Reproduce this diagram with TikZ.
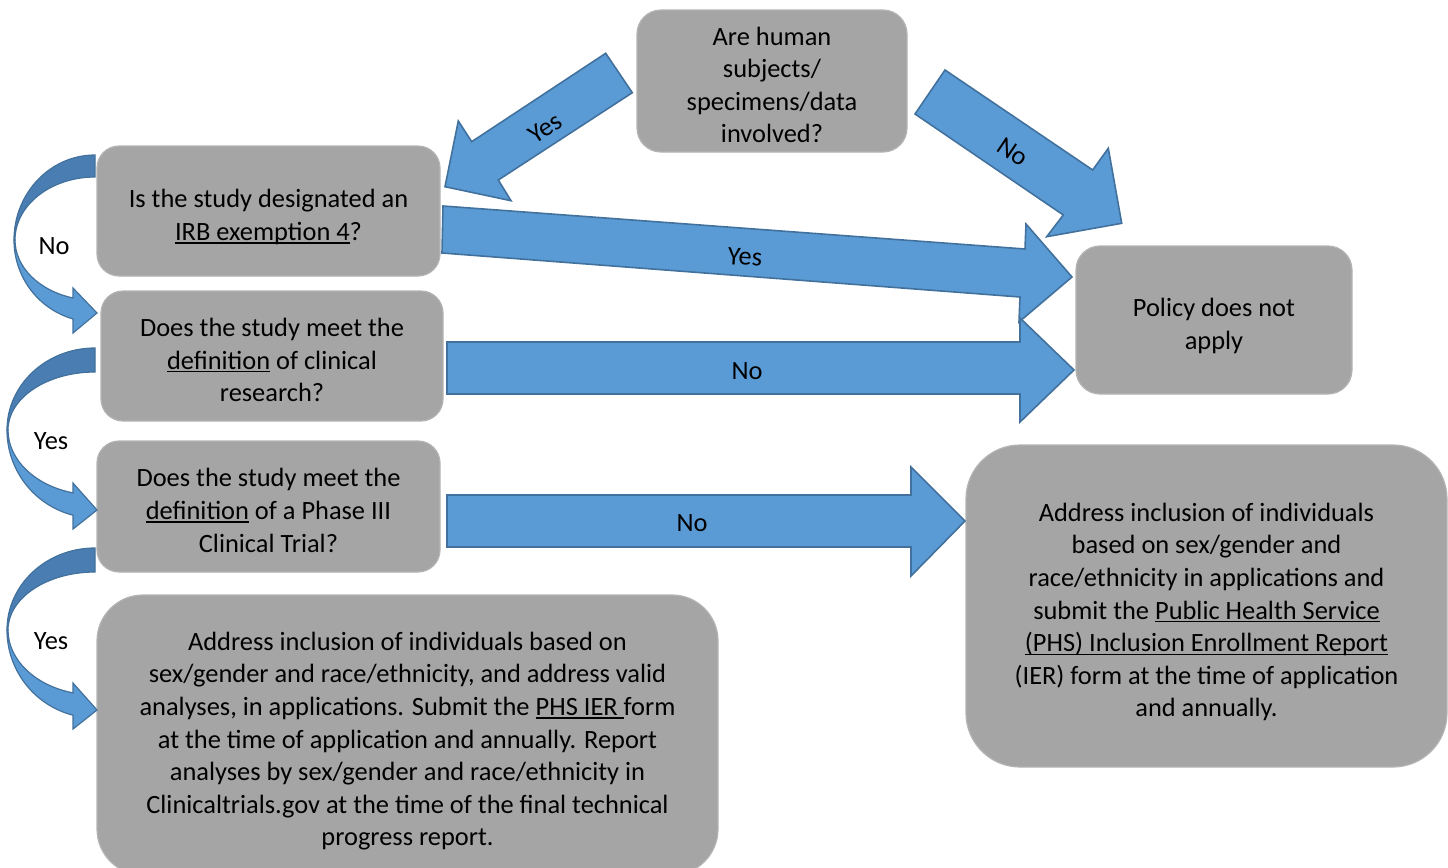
\documentclass[tikz,border=0pt]{standalone}
\usepackage{fontspec}
\setmainfont{Carlito}
\definecolor{boxgray}{HTML}{A5A5A5}
\definecolor{boxline}{HTML}{B4B4B4}
\definecolor{arrowblue}{HTML}{5B9BD5}
\definecolor{arrowdark}{HTML}{4A7EB2}
\definecolor{arrowline}{HTML}{41719C}
\newcommand\undl[1]{\setbox0\hbox{#1}\rlap{\rule[-1.7pt]{\wd0}{0.75pt}}\box0\relax}
% struts for first and last line of box texts (Word-like vertical centring)
\newcommand\tst{\rule{0pt}{16pt}}
\newcommand\bst{\rule[-3pt]{0pt}{3pt}}
% curved (U-turn) arrow on the left: #1 centre y, #2 outer x radius, #3 outer top y radius,
% #4 outer bottom y radius, #5 inner top y radius, #6 inner bottom y radius,
% #7 head top offset, #8 head bottom offset, #9 tip offset
\newcommand\curvarr[9]{%
  \pgfmathsetmacro\tho{180+acos(22/#2)}%
  \pgfmathsetmacro\thi{180+acos(22/(#2-1))}%
  \pgfmathsetmacro\shtop{#1+#6*sin(\thi-180)}%
  \filldraw[fill=arrowdark, draw=arrowline, line width=0.6pt]
    (95,#1-#3) arc[start angle=90, end angle=180, x radius=#2*0.5pt, y radius=#3*0.5pt]
    -- (96-#2,#1) arc[start angle=180, end angle=90, x radius=(#2-1)*0.5pt, y radius=#5*0.5pt]
    -- cycle;
  \filldraw[fill=arrowblue, draw=arrowline, line width=0.6pt, line join=miter]
    (95-#2,#1) arc[start angle=180, end angle=\tho, x radius=#2*0.5pt, y radius=#4*0.5pt]
    -- (73,#1+#8) -- (97,#1+#9) -- (73,#1+#7) -- (73,\shtop)
    arc[start angle=\thi, end angle=180, x radius=(#2-1)*0.5pt, y radius=#6*0.5pt]
    -- cycle;
}
\begin{document}
\begin{tikzpicture}[x=0.5pt,y=-0.5pt,
  box/.style={fill=boxgray, draw=boxline, line width=0.6pt, align=center,
    font=\fontsize{13.2}{16.33}\selectfont, inner sep=0pt, text=black},
  blockarrow/.style={fill=arrowblue, draw=arrowline, line width=0.8pt, line join=miter},
  lbl/.style={font=\fontsize{13.2}{16.33}\selectfont, inner sep=0pt, text=black}]

\useasboundingbox (0,0) rectangle (1448,868);
\clip (0,0) rectangle (1448,868);

% boxes
\node[box, minimum width=135pt, minimum height=71pt, rounded corners=12pt] (q0) at (772,81)
  {\tst Are human\\subjects/\\specimens/data\\involved?\bst};
\node[box, minimum width=171.5pt, minimum height=65pt, rounded corners=11pt] (q1) at (268.5,211)
  {\tst Is the study designated an\\\undl{IRB exemption 4}?\bst};
\node[box, minimum width=171pt, minimum height=65pt, rounded corners=11pt] (q2) at (272,356)
  {\tst Does the study meet the\\\undl{definition} of clinical\\research?\bst};
\node[box, minimum width=171.5pt, minimum height=65.5pt, rounded corners=11pt] (q3) at (268.5,506.5)
  {\tst Does the study meet the\\\undl{definition} of a Phase III\\Clinical Trial?\bst};
\node[box, minimum width=310.5pt, minimum height=140pt, rounded corners=23pt] (r3) at (407.5,735)
  {\tst Address inclusion of individuals based on\\
   sex/gender and race/ethnicity, and address valid\\
   analyses, in applications. Submit the \undl{PHS IER }form\\
   at the time of application and annually. Report\\
   analyses by sex/gender and race/ethnicity in\\
   Clinicaltrials.gov at the time of the final technical\\
   progress report.\bst};
\node[box, minimum width=138pt, minimum height=74pt, rounded corners=12pt] (na) at (1214,320)
  {\tst Policy does not\\apply\bst};
\node[box, minimum width=240.5pt, minimum height=161pt, rounded corners=27pt] (r2) at (1206.5,606)
  {\tst Address inclusion of individuals\\
   based on sex/gender and\\
   race/ethnicity in applications and\\
   submit the \undl{Public Health Service}\\
   \undl{(PHS) Inclusion Enrollment Report}\\
   (IER) form at the time of application\\
   and annually.\bst};

% block arrows
\filldraw[blockarrow] (605.7,53.3) -- (471.7,141.7) -- (458.3,121) -- (445,186.7)
  -- (511,200.7) -- (498.3,180) -- (632.3,92.7) -- cycle;
\node[lbl, rotate=33] (lyes0) at (545,128) {Yes};

\filldraw[blockarrow] (945,70) -- (1092.7,170) -- (1108.3,148.3) -- (1121.7,223.3)
  -- (1046.7,236.7) -- (1063.3,215) -- (915,114) -- cycle;
\node[lbl, rotate=-34] (lno0) at (1013,152) {No};

\filldraw[blockarrow] (443,206) -- (1025,249) -- (1026,224) -- (1072,277)
  -- (1019,322) -- (1020,297) -- (442,253) -- cycle;
\node[lbl, rotate=-4] (lyes1) at (745,257) {Yes};

\filldraw[blockarrow] (447,342) -- (1020,342) -- (1020,318) -- (1074,370)
  -- (1020,422) -- (1020,394) -- (447,394) -- cycle;
\node[lbl] (lno2) at (747,371) {No};

\filldraw[blockarrow] (447,495) -- (911,495) -- (911,467) -- (965,521)
  -- (911,576) -- (911,547) -- (447,547) -- cycle;
\node[lbl] (lno3) at (692,523) {No};

% curved arrows on the left
\curvarr{240}{81}{85}{82}{63}{60.3}{48}{93}{73}
\node[lbl] (lno1) at (54,246) {No};
\curvarr{430}{88}{82}{88}{58}{65}{53}{99}{80}
\node[lbl] (lyes2) at (51,441) {Yes};
\curvarr{630}{88}{82}{88}{58}{65}{53}{99}{80}
\node[lbl] (lyes3) at (51,641) {Yes};
\end{tikzpicture}
\end{document}
